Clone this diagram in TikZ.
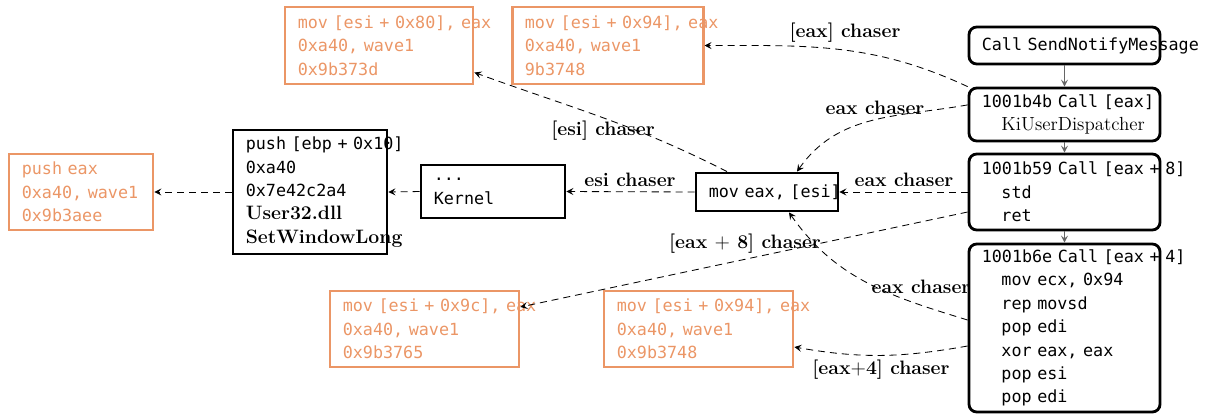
\documentclass[tikz,border=0pt]{standalone}
\usepackage{fontspec}
\setmonofont{DejaVu Sans Mono}
\usetikzlibrary{positioning, arrows.meta, calc}
\definecolor{hitcol}{rgb}{0.92, 0.59, 0.40}
\newcommand{\codefont}{\ttfamily\fontsize{11.9}{16.6}\selectfont}
\newcommand{\srf}[1]{\mbox{\rmfamily\fontsize{13.5}{16.6}\selectfont #1}}
\newcommand{\srfb}[1]{\mbox{\rmfamily\bfseries\fontsize{13.8}{16.6}\selectfont #1}}
\newcommand{\ind}{\hspace*{14pt}}
\tikzset{
  box/.style={rectangle, draw, line width=2pt, inner xsep=0.32cm,
              inner ysep=0pt, font=\codefont, align=left},
  hit box/.style={box, draw=hitcol, text=hitcol},
  code box/.style={box},
  call box/.style={box, rounded corners=5.5pt, text width=4.135cm,
                   minimum width=4.775cm},
  lbl/.style={font=\bfseries\fontsize{13.8}{16}\selectfont, inner sep=1pt},
  tip/.style={-{Stealth[length=5pt, width=5pt, inset=2pt]}},
  chase/.style={tip, dash pattern=on 5pt off 3.5pt, line width=0.6pt},
  flow/.style={tip, line width=0.7pt, black!60},
}

\begin{document}
\begin{tikzpicture}
    \useasboundingbox (0,0) rectangle (30.2,-10.35);

    % call chain
    \node[call box, minimum height=0.925cm] (R1) at (26.6125,-1.1375)
        {\mbox{Call SendNotifyMessage}};
    \node[call box, minimum height=1.325cm] (R2) at (26.6125,-2.8625)
        {\mbox{1001b4b Call [eax]}\\\ind\srf{KiUserDispatcher}};
    \node[call box, minimum height=1.9cm] (R3) at (26.6125,-4.8)
        {\mbox{1001b59 Call [eax + 8]}\\\ind std\\\ind ret};
    \node[call box, minimum height=4.2cm] (R4) at (26.6125,-8.2)
        {\mbox{1001b6e Call [eax + 4]}\\\ind\mbox{mov ecx, 0x94}\\\ind\mbox{rep movsd}\\
         \ind\mbox{pop edi}\\\ind\mbox{xor eax, eax}\\\ind\mbox{pop esi}\\\ind\mbox{pop edi}};

    % code boxes
    \node[code box, text width=2.91cm, minimum width=3.55cm, minimum height=0.95cm] (B3)
        at (19.175,-4.8) {\mbox{mov eax, [esi]}};
    \node[code box, text width=2.96cm, minimum width=3.6cm, minimum height=1.325cm] (B2)
        at (12.325,-4.7875) {...\\Kernel};
    \node[code box, text width=3.21cm, minimum width=3.85cm, minimum height=3.1cm] (B1)
        at (7.75,-4.8) {\mbox{push [ebp + 0x10]}\\0xa40\\0x7e42c2a4\\
         \srfb{User32.dll}\\\srfb{SetWindowLong}};

    % hits
    \node[hit box, text width=4.06cm, minimum width=4.7cm, minimum height=1.925cm] (O1)
        at (9.475,-1.1375) {\mbox{mov [esi + 0x80], eax}\\\mbox{0xa40, wave1}\\0x9b373d};
    \node[hit box, text width=4.135cm, minimum width=4.775cm, minimum height=1.925cm] (O2)
        at (15.19,-1.1375) {\mbox{mov [esi + 0x94], eax}\\\mbox{0xa40, wave1}\\9b3748};
    \node[hit box, text width=2.96cm, minimum width=3.6cm, minimum height=1.9cm] (O3)
        at (2.025,-4.8) {\mbox{push eax}\\\mbox{0xa40, wave1}\\0x9b3aee};
    \node[hit box, text width=4.085cm, minimum width=4.725cm, minimum height=1.9cm] (O4)
        at (10.6125,-8.225) {\mbox{mov [esi + 0x9c], eax}\\\mbox{0xa40, wave1}\\0x9b3765};
    \node[hit box, text width=4.085cm, minimum width=4.725cm, minimum height=1.9cm] (O5)
        at (17.4625,-8.225) {\mbox{mov [esi + 0x94], eax}\\\mbox{0xa40, wave1}\\0x9b3748};

    % labels
    \node[lbl] (l_eax) at (21.125,-0.825) {[eax] chaser};
    \node[lbl] (l_eax_a) at (21.875,-2.7) {eax chaser};
    \node[lbl] (l_eax_b) at (22.6,-4.5) {eax chaser};
    \node[lbl] (l_eax8) at (18.625,-6.1) {[eax $+$ 8] chaser};
    \node[lbl] (l_eax_c) at (23.025,-7.175) {eax chaser};
    \node[lbl] (l_eax4) at (22.025,-9.25) {[eax$+$4] chaser};
    \node[lbl] (l_esi) at (15.075,-3.275) {[esi] chaser};
    \node[lbl] (l_esi_b) at (15.75,-4.5) {esi chaser};

    \draw[flow] (R1) -- (R2);
    \draw[flow] (R2) -- (R3);
    \draw[flow] (R3) -- (R4);

    \draw[chase] (R2.north west) to[out=155, in=0] (O2.east);
    \draw[chase] ([yshift=0.24cm]R2.west) to[out=190, in=55] ([xshift=0.75cm]B3.north);
    \draw[chase] (R3.west) -- (B3.east);
    \draw[chase] ([yshift=-0.5cm]R3.west) -- ([yshift=0.55cm]O4.east);
    \draw[chase] ([yshift=0.2cm]R4.west) to[out=163, in=-55] ([xshift=0.55cm]B3.south);
    \draw[chase] ([yshift=-0.45cm]R4.west) to[out=190, in=-10] ([yshift=-0.45cm]O5.east);
    \draw[chase] ([xshift=-1cm]B3.north) to[out=153, in=-20] ([yshift=-0.675cm]O1.east);
    \draw[chase] (B3.west) -- (B2.east);
    \draw[chase] (B2.west) -- (B1.east);
    \draw[chase] (B1.west) -- (O3.east);
\end{tikzpicture}
\end{document}
